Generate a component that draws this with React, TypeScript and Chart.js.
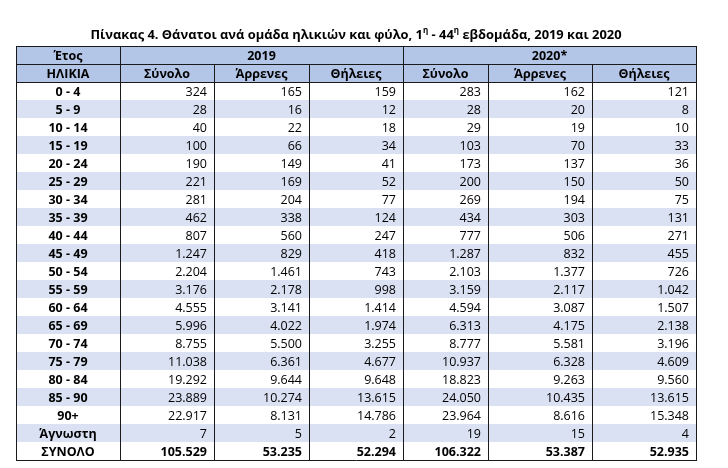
import React, { useEffect, useRef } from "react";
import { Chart, registerables } from "chart.js";

Chart.register(...registerables);

const titleParts: { t: string; sup?: boolean }[] = [
  { t: "Πίνακας 4. Θάνατοι ανά ομάδα ηλικιών και φύλο, 1" },
  { t: "η", sup: true },
  { t: " - 44" },
  { t: "η", sup: true },
  { t: " εβδομάδα, 2019 και 2020" },
];

const yearLabel = "Έτος";
const ageLabel = "ΗΛΙΚΙΑ";
const years = ["2019", "2020*"];
const subHeaders = ["Σύνολο", "Άρρενες", "Θήλειες", "Σύνολο", "Άρρενες", "Θήλειες"];

const ages = [
  "0 - 4", "5 - 9", "10 - 14", "15 - 19", "20 - 24", "25 - 29", "30 - 34",
  "35 - 39", "40 - 44", "45 - 49", "50 - 54", "55 - 59", "60 - 64", "65 - 69",
  "70 - 74", "75 - 79", "80 - 84", "85 - 90", "90+", "Άγνωστη", "ΣΥΝΟΛΟ",
];

const total2019 = [324, 28, 40, 100, 190, 221, 281, 462, 807, 1247, 2204, 3176, 4555, 5996, 8755, 11038, 19292, 23889, 22917, 7, 105529];
const male2019 = [165, 16, 22, 66, 149, 169, 204, 338, 560, 829, 1461, 2178, 3141, 4022, 5500, 6361, 9644, 10274, 8131, 5, 53235];
const female2019 = [159, 12, 18, 34, 41, 52, 77, 124, 247, 418, 743, 998, 1414, 1974, 3255, 4677, 9648, 13615, 14786, 2, 52294];
const total2020 = [283, 28, 29, 103, 173, 200, 269, 434, 777, 1287, 2103, 3159, 4594, 6313, 8777, 10937, 18823, 24050, 23964, 19, 106322];
const male2020 = [162, 20, 19, 70, 137, 150, 194, 303, 506, 832, 1377, 2117, 3087, 4175, 5581, 6328, 9263, 10435, 8616, 15, 53387];
const female2020 = [121, 8, 10, 33, 36, 50, 75, 131, 271, 455, 726, 1042, 1507, 2138, 3196, 4609, 9560, 13615, 15348, 4, 52935];

const valueColumns = [total2019, male2019, female2019, total2020, male2020, female2020];

// layout (column edges in table units, rows in row units)
const COL_EDGES = [0, 104, 198, 293, 387, 472, 576, 680];
const HEADER_ROWS = 2;
const TOTAL_ROWS = HEADER_ROWS + ages.length;

const FONT = "'Open Sans', 'Noto Sans', sans-serif";
const BODY_SIZE = 12.5;
const HEADER_FILL = "#b4c6e7";
const STRIPE_FILL = "#d9e1f2";
const LINE = "#1a1a1a";

const fmt = (n: number) => String(n).replace(/\B(?=(\d{3})+(?!\d))/g, ".");

const tablePlugin = {
  id: "tablePlugin",
  beforeDatasetsDraw(chart: any) {
    const { ctx } = chart;
    const xs = chart.scales.x;
    const ys = chart.scales.y;
    const X = (v: number) => Math.round(xs.getPixelForValue(v));
    const Y = (v: number) => Math.round(ys.getPixelForValue(v));
    const L = X(0), R = X(COL_EDGES[COL_EDGES.length - 1]);
    ctx.save();
    ctx.fillStyle = HEADER_FILL;
    ctx.fillRect(L, Y(0), R - L, Y(HEADER_ROWS) - Y(0));
    ctx.fillStyle = STRIPE_FILL;
    for (let i = 0; i < ages.length; i++) {
      if (i % 2 === 1) {
        ctx.fillRect(L, Y(HEADER_ROWS + i), R - L, Y(HEADER_ROWS + i + 1) - Y(HEADER_ROWS + i));
      }
    }
    ctx.strokeStyle = LINE;
    ctx.lineWidth = 1;
    const hline = (y: number, x0: number, x1: number) => {
      ctx.beginPath();
      ctx.moveTo(x0, y + 0.5);
      ctx.lineTo(x1, y + 0.5);
      ctx.stroke();
    };
    const vline = (x: number, y0: number, y1: number) => {
      ctx.beginPath();
      ctx.moveTo(x + 0.5, y0);
      ctx.lineTo(x + 0.5, y1);
      ctx.stroke();
    };
    hline(Y(0), L, R);
    hline(Y(1), L, R);
    hline(Y(2), L, R);
    hline(Y(TOTAL_ROWS), L, R + 1);
    vline(L, Y(0), Y(TOTAL_ROWS));
    vline(R, Y(0), Y(TOTAL_ROWS));
    vline(X(COL_EDGES[1]), Y(0), Y(TOTAL_ROWS));
    vline(X(COL_EDGES[4]), Y(0), Y(TOTAL_ROWS));
    [2, 3, 5, 6].forEach((c) => vline(X(COL_EDGES[c]), Y(1), Y(TOTAL_ROWS)));
    ctx.restore();
  },
  afterDatasetsDraw(chart: any) {
    const { ctx } = chart;
    const xs = chart.scales.x;
    const ys = chart.scales.y;
    const X = (v: number) => xs.getPixelForValue(v);
    const Y = (v: number) => ys.getPixelForValue(v);
    ctx.save();
    ctx.fillStyle = "#000";
    ctx.textBaseline = "middle";
    // title
    const titleFont = `bold 12.9px ${FONT}`;
    const supFont = `bold 8px ${FONT}`;
    let tw = 0;
    titleParts.forEach((p) => {
      ctx.font = p.sup ? supFont : titleFont;
      tw += ctx.measureText(p.t).width;
    });
    let tx = (X(0) + X(COL_EDGES[COL_EDGES.length - 1])) / 2 - tw / 2;
    ctx.textAlign = "left";
    titleParts.forEach((p) => {
      ctx.font = p.sup ? supFont : titleFont;
      ctx.fillText(p.t, tx, p.sup ? 31 : 35);
      tx += ctx.measureText(p.t).width;
    });
    // headers
    ctx.textAlign = "center";
    ctx.font = `bold ${BODY_SIZE}px ${FONT}`;
    const cx = (a: number, b: number) => (X(COL_EDGES[a]) + X(COL_EDGES[b])) / 2;
    ctx.fillText(yearLabel, cx(0, 1), Y(0.5) + 1);
    ctx.fillText(years[0], cx(1, 4), Y(0.5) + 1);
    ctx.fillText(years[1], cx(4, 7), Y(0.5) + 1);
    ctx.fillText(ageLabel, cx(0, 1), Y(1.5) + 1);
    subHeaders.forEach((s, i) => ctx.fillText(s, cx(i + 1, i + 2), Y(1.5) + 1));
    // body from dataset elements
    chart.data.datasets.forEach((ds: any, di: number) => {
      const meta = chart.getDatasetMeta(di);
      meta.data.forEach((el: any, i: number) => {
        const isTotal = i === ages.length - 1;
        if (di === 0) {
          ctx.textAlign = "center";
          ctx.font = `bold ${BODY_SIZE}px ${FONT}`;
          ctx.fillText(ages[i], el.x, el.y + 1);
        } else {
          ctx.textAlign = "right";
          ctx.font = `${isTotal ? "bold " : ""}${BODY_SIZE}px ${FONT}`;
          const right = X(COL_EDGES[di + 1]) - 7;
          ctx.fillText(fmt(valueColumns[di - 1][i]), right, el.y + 1);
        }
      });
    });
    ctx.restore();
  },
};

export default function App() {
  const ref = useRef<HTMLCanvasElement>(null);
  useEffect(() => {
    document.body.style.margin = "0";
    const canvas = ref.current!;
    const colCenter = (c: number) => (COL_EDGES[c] + COL_EDGES[c + 1]) / 2;
    const datasets = [
      {
        label: "ages",
        data: ages.map((_, i) => ({ x: colCenter(0), y: HEADER_ROWS + i + 0.5 })),
      },
      ...valueColumns.map((col, c) => ({
        label: subHeaders[c],
        data: col.map((_, i) => ({ x: colCenter(c + 1), y: HEADER_ROWS + i + 0.5 })),
      })),
    ].map((d) => ({ ...d, pointRadius: 0, pointHoverRadius: 0, showLine: false }));
    const chart = new Chart(canvas, {
      type: "scatter",
      data: { datasets },
      options: {
        animation: false,
        responsive: false,
        devicePixelRatio: 1,
        layout: { padding: { left: 16, top: 46, right: 32, bottom: 8 } },
        plugins: { legend: { display: false }, title: { display: false }, tooltip: { enabled: false } },
        events: [],
        scales: {
          x: { type: "linear", min: 0, max: COL_EDGES[COL_EDGES.length - 1], display: false },
          y: { type: "linear", min: 0, max: TOTAL_ROWS, reverse: true, display: false },
        },
      },
      plugins: [tablePlugin],
    });
    return () => chart.destroy();
  }, []);
  return (
    <div style={{ width: 728, height: 468, background: "#fff" }}>
      <canvas ref={ref} width={728} height={468} style={{ display: "block" }} />
    </div>
  );
}
